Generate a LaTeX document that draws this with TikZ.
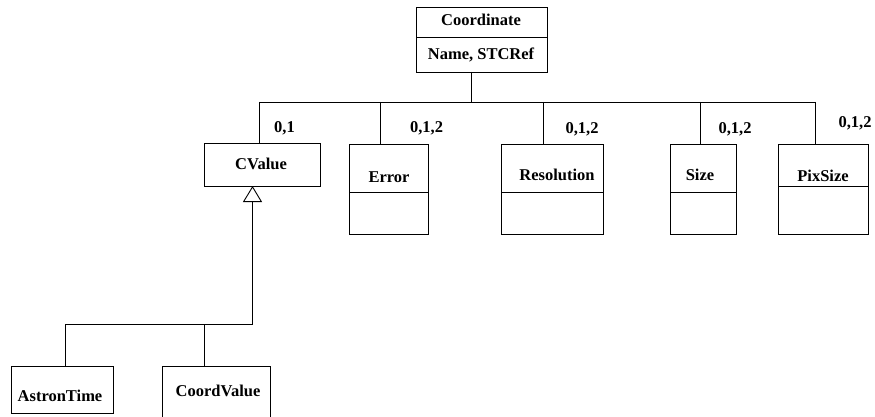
\documentclass[tikz,border=0pt]{standalone}
\usepackage{fontspec}
\setmainfont{Liberation Serif}
\usetikzlibrary{arrows.meta}
\begin{document}
\begin{tikzpicture}[x=1pt,y=-1pt,
  box/.style={draw, line width=0.9pt, inner sep=0pt, outer sep=0pt},
  conn/.style={draw, line width=0.9pt},
  lbl/.style={font=\fontsize{16.5}{19}\selectfont\bfseries, inner sep=0pt,
              text height=11pt, text depth=0pt}]
\useasboundingbox (0,0) rectangle (875,417);
\clip (0,0) rectangle (875,417);

% class boxes
\node[box, minimum width=131pt, minimum height=65pt] (coordbox) at (481.5,39.5) {};
\node[box, minimum width=116pt, minimum height=43pt] (cvalue)   at (262,164.5) {};
\node[box, minimum width=79pt,  minimum height=90pt] (errbox)   at (388.5,189) {};
\node[box, minimum width=102pt, minimum height=90pt] (resbox)   at (552,189) {};
\node[box, minimum width=66pt,  minimum height=90pt] (sizebox)  at (703,189) {};
\node[box, minimum width=90pt,  minimum height=90pt] (pixbox)   at (823,189) {};
\node[box, minimum width=102pt, minimum height=47pt] (astron)   at (62,389.5) {};
\node[box, minimum width=108pt, minimum height=64pt] (coordval) at (216,398) {};

% compartment dividers
\draw[conn] ([yshift=-30pt]coordbox.north west) -- ([yshift=-30pt]coordbox.north east);
\draw[conn] ([yshift=-48pt]errbox.north west) -- ([yshift=-48pt]errbox.north east);
\draw[conn] ([yshift=-48pt]resbox.north west) -- ([yshift=-48pt]resbox.north east);
\draw[conn] ([yshift=-48pt]sizebox.north west) -- ([yshift=-48pt]sizebox.north east);
\draw[conn] ([yshift=-42pt]pixbox.north west) -- ([yshift=-42pt]pixbox.north east);

% class names and attributes
\node[lbl] (tCoord) at (481,20)  {Coordinate};
\node[lbl] (tName)  at (481,54)  {Name, STCRef};
\node[lbl] (tCV)    at (261,164) {CValue};
\node[lbl] (tErr)   at (389,177) {Error};
\node[lbl] (tRes)   at (557,175) {Resolution};
\node[lbl] (tSize)  at (700,175) {Size};
\node[lbl] (tPix)   at (823,176) {PixSize};
\node[lbl] (tAst)   at (60,396)  {AstronTime};
\node[lbl] (tCVal)  at (218,391) {CoordValue};

% multiplicities
\node[lbl] (m1) at (284.5,126.5) {0,1};
\node[lbl] (m2) at (426.5,127)   {0,1,2};
\node[lbl] (m3) at (582,128)     {0,1,2};
\node[lbl] (m4) at (735,128)     {0,1,2};
\node[lbl] (m5) at (855,122)     {0,1,2};

% aggregation tree
\coordinate (bus)   at (471,102);
\coordinate (jCV)   at (259,102);
\coordinate (jErr)  at (380,102);
\coordinate (jRes)  at (543,102);
\coordinate (jSize) at (700,102);
\coordinate (jPix)  at (815,102);
\draw[conn] (coordbox.south -| bus) -- (bus);
\draw[conn] (jCV) -- (jPix);
\draw[conn] (jCV)   -- (jCV |- cvalue.north);
\draw[conn] (jErr)  -- (jErr |- errbox.north);
\draw[conn] (jRes)  -- (jRes |- resbox.north);
\draw[conn] (jSize) -- (jSize |- sizebox.north);
\draw[conn] (jPix)  -- (jPix |- pixbox.north);

% generalisation tree
\coordinate (gen)   at (252.5,324);
\coordinate (jAst)  at (65,324);
\coordinate (jCVal) at (204,324);
\draw[conn, -{Triangle[open, fill=white, length=16pt, width=19pt]}] (gen) -- (gen |- cvalue.south);
\draw[conn] (jAst) -- (gen);
\draw[conn] (jAst)  -- (jAst |- astron.north);
\draw[conn] (jCVal) -- (jCVal |- coordval.north);
\end{tikzpicture}
\end{document}
